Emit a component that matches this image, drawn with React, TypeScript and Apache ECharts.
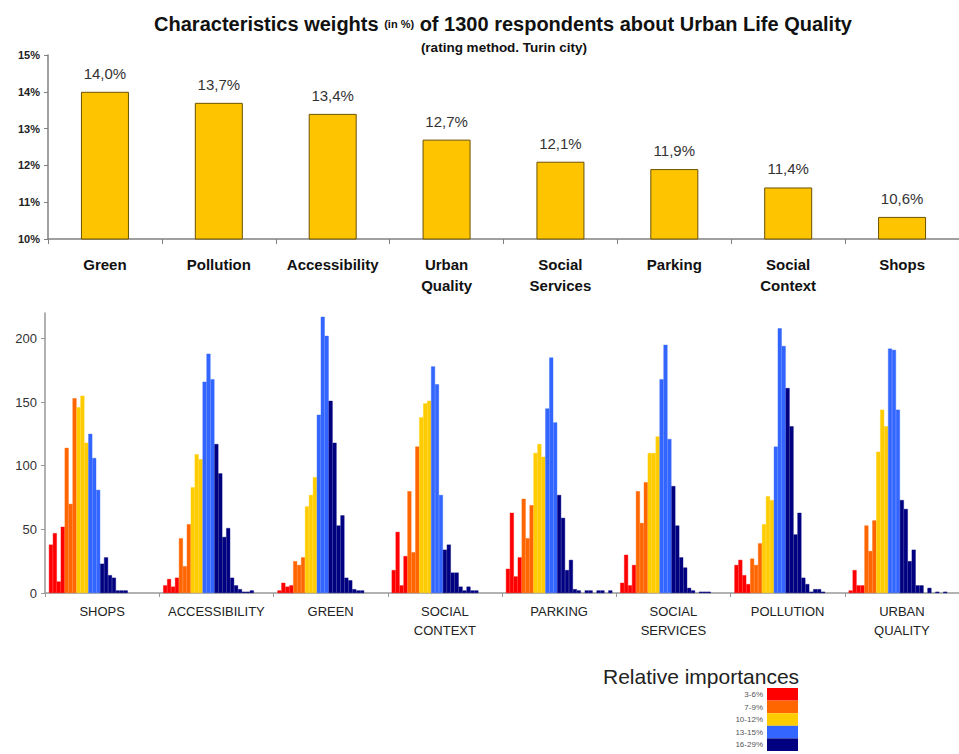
import React, { useEffect, useRef } from 'react';
import * as echarts from 'echarts';

// ---- Top chart data ----
const weightCategories = ['Green', 'Pollution', 'Accessibility', 'Urban\nQuality', 'Social\nServices', 'Parking', 'Social\nContext', 'Shops'];
const weightValues = [14.0, 13.7, 13.4, 12.7, 12.1, 11.9, 11.4, 10.6];

// ---- Bottom chart data (respondent counts for relative importance 3%..29%) ----
const groupNames = ['SHOPS', 'ACCESSIBILITY', 'GREEN', 'SOCIAL\nCONTEXT', 'PARKING', 'SOCIAL\nSERVICES', 'POLLUTION', 'URBAN\nQUALITY'];
const binPercents = [3, 4, 5, 6, 7, 8, 9, 10, 11, 12, 13, 14, 15, 16, 17, 18, 19, 20, 21, 22, 23, 24, 25, 26, 27, 28, 29];
const shops = [38, 47, 9, 52, 114, 70, 153, 146, 155, 118, 125, 106, 81, 23, 28, 14, 12, 2, 2, 2, 0, 0, 0, 0, 0, 0, 0];
const accessibility = [6, 11, 5, 12, 43, 21, 54, 83, 109, 105, 166, 188, 168, 117, 94, 44, 51, 12, 6, 3, 1, 1, 2, 0, 0, 0, 0];
const green = [2, 8, 5, 6, 25, 22, 28, 68, 77, 91, 140, 217, 202, 151, 118, 53, 61, 12, 10, 3, 2, 2, 0, 0, 0, 0, 0];
const socialContext = [18, 48, 6, 29, 80, 32, 115, 138, 149, 151, 178, 164, 77, 34, 38, 16, 16, 5, 2, 5, 2, 2, 0, 0, 0, 0, 0];
const parking = [19, 63, 13, 28, 74, 43, 69, 110, 117, 107, 145, 185, 134, 77, 59, 18, 26, 3, 2, 0, 2, 2, 0, 2, 2, 0, 2];
const socialServices = [8, 30, 6, 22, 80, 55, 87, 110, 110, 123, 168, 195, 121, 84, 53, 28, 20, 4, 2, 0, 1, 1, 1, 0, 0, 0, 0];
const pollution = [22, 26, 14, 7, 27, 22, 39, 54, 76, 73, 115, 208, 194, 161, 131, 46, 63, 12, 7, 1, 3, 3, 1, 0, 0, 0, 0];
const urbanQuality = [2, 18, 6, 6, 53, 33, 57, 111, 144, 131, 192, 191, 144, 73, 66, 25, 34, 6, 6, 0, 4, 0, 1, 0, 1, 0, 0];
const groupCounts = [shops, accessibility, green, socialContext, parking, socialServices, pollution, urbanQuality];

const bandNames = ['3-6%', '7-9%', '10-12%', '13-15%', '16-29%'];
const bandFrom = [3, 7, 10, 13, 16];
const bandTo = [6, 9, 12, 15, 29];
const bandColors = ['#FF0000', '#FF6600', '#FFCC00', '#3366FF', '#000080'];
const yTicksBottom = [0, 50, 100, 150, 200];

const SLOTS_PER_GROUP = 29;
const SLOT_OFFSET = 1;

export default function App() {
  const ref = useRef<HTMLDivElement>(null);

  useEffect(() => {
    document.body.style.margin = '0';
    if (!ref.current) return;
    const chart = echarts.init(ref.current, undefined, { renderer: 'svg' });

    const totalSlots = groupNames.length * SLOTS_PER_GROUP;
    const slotCats = Array.from({ length: totalSlots }, (_, i) => String(i));

    const bandSeries = bandNames.map((name, b) => {
      const data: (number | string)[] = new Array(totalSlots).fill('-');
      groupCounts.forEach((counts, g) => {
        binPercents.forEach((pct, k) => {
          if (pct >= bandFrom[b] && pct <= bandTo[b] && counts[k] > 0) {
            data[g * SLOTS_PER_GROUP + SLOT_OFFSET + k] = counts[k];
          }
        });
      });
      return {
        name,
        type: 'bar',
        xAxisIndex: 1,
        yAxisIndex: 1,
        data,
        barWidth: '100%',
        barGap: '-100%',
        itemStyle: { color: bandColors[b], borderColor: bandColors[b], borderWidth: 0.4 },
        silent: true,
      };
    });

    const font = 'Liberation Sans, Arial, sans-serif';

    const legendItems: any[] = [];
    bandNames.forEach((name, i) => {
      const y = 688 + i * 12.6;
      legendItems.push({
        type: 'rect',
        shape: { x: 767, y, width: 31, height: 12.6 },
        style: { fill: bandColors[i] },
      });
      legendItems.push({
        type: 'text',
        x: 763,
        y: y + 6.5,
        style: { text: name, fontSize: 8, fill: '#555', align: 'right', verticalAlign: 'middle', fontFamily: font },
      });
    });

    chart.setOption({
      animation: false,
      textStyle: { fontFamily: font },
      grid: [
        { left: 48, top: 55, width: 922, height: 184, containLabel: false },
        { left: 45, top: 313, width: 922, height: 280, containLabel: false },
      ],
      xAxis: [
        {
          type: 'category',
          gridIndex: 0,
          data: weightCategories,
          axisLine: { lineStyle: { color: '#808080', width: 1.5 } },
          axisTick: { show: true, interval: 0, length: 5, lineStyle: { color: '#808080' } },
          axisLabel: { interval: 0, fontSize: 15, fontWeight: 'bold', color: '#111', lineHeight: 21, margin: 15 },
        },
        {
          type: 'category',
          gridIndex: 1,
          data: slotCats,
          show: false,
        },
        {
          type: 'category',
          gridIndex: 1,
          position: 'bottom',
          data: groupNames,
          axisLine: { lineStyle: { color: '#999', width: 1.5 } },
          axisTick: { show: true, interval: 0, length: 4, lineStyle: { color: '#999' } },
          axisLabel: { interval: 0, fontSize: 13, color: '#222', lineHeight: 19, margin: 9 },
        },
      ],
      yAxis: [
        {
          type: 'value',
          gridIndex: 0,
          min: 10,
          max: 15,
          interval: 1,
          splitLine: { show: false },
          axisLine: { show: true, lineStyle: { color: '#808080', width: 1.5 } },
          axisTick: { show: true, length: 4, lineStyle: { color: '#808080' } },
          axisLabel: { formatter: '{value}%', fontSize: 11, fontWeight: 'bold', color: '#222', margin: 8 },
        },
        {
          type: 'value',
          gridIndex: 1,
          min: 0,
          max: 220,
          interval: 50,
          splitLine: { show: false },
          axisLine: { show: true, lineStyle: { color: '#999', width: 1.5 } },
          axisTick: { show: true, length: 4, lineStyle: { color: '#999' }, customValues: yTicksBottom },
          axisLabel: { fontSize: 13, color: '#333', margin: 8, customValues: yTicksBottom },
        },
      ],
      series: [
        {
          name: 'Weight',
          type: 'bar',
          xAxisIndex: 0,
          yAxisIndex: 0,
          data: weightValues,
          barWidth: 48,
          itemStyle: { color: '#FFC400', borderColor: '#6b5200', borderWidth: 1 },
          label: {
            show: true,
            position: 'top',
            distance: 11,
            fontSize: 15,
            color: '#333',
            formatter: (p: any) => p.value.toFixed(1).replace('.', ',') + '%',
          },
          silent: true,
        },
        ...bandSeries,
      ],
      graphic: [
        {
          type: 'text',
          x: 503,
          y: 24,
          style: {
            text: '{a|Characteristics weights }{b|(in %)}{a| of 1300 respondents about Urban Life Quality}',
            align: 'center',
            verticalAlign: 'middle',
            fill: '#111',
            rich: {
              a: { fontSize: 20, fontWeight: 'bold', fontFamily: font, fill: '#111' },
              b: { fontSize: 11, fontWeight: 'bold', fontFamily: font, fill: '#111' },
            },
          },
        },
        {
          type: 'text',
          x: 504,
          y: 47,
          style: { text: '(rating method. Turin city)', fontSize: 13.5, fontWeight: 'bold', fill: '#111', align: 'center', verticalAlign: 'middle', fontFamily: font },
        },
        {
          type: 'text',
          x: 603,
          y: 676,
          style: { text: 'Relative importances', fontSize: 21, fill: '#222', align: 'left', verticalAlign: 'middle', fontFamily: font },
        },
        ...legendItems,
      ],
    });

    return () => {
      chart.dispose();
    };
  }, []);

  return <div ref={ref} style={{ width: 959, height: 754 }} />;
}
